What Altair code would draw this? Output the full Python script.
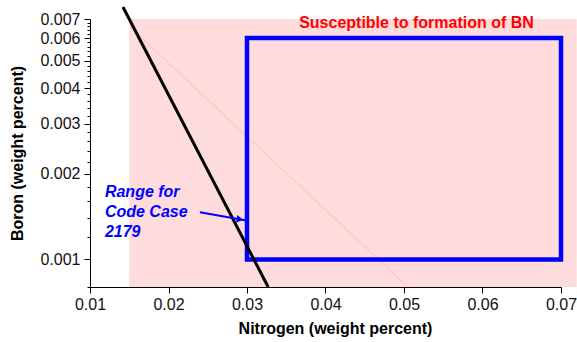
import altair as alt
import pandas as pd

# Axis ranges and tick labels
nitrogen_domain = [0.01, 0.07]
boron_domain = [0.0008, 0.007]
nitrogen_major = [0.01, 0.02, 0.03, 0.04, 0.05, 0.06, 0.07]
boron_major = [0.001, 0.002, 0.003, 0.004, 0.005, 0.006, 0.007]
nitrogen_minor_step = 0.0025
boron_minor_step = 0.0002

# Region susceptible to BN formation
bn_nitrogen = [0.015, 0.072]
bn_boron = [0.0008, 0.007]

# Code Case 2179 window
case_nitrogen = [0.03, 0.07]
case_boron = [0.001, 0.006]

# Solubility limit line
limit_nitrogen = [0.0142, 0.0327]
limit_boron = [0.00771, 0.0008]

# Faint guide line inside the shaded region
guide_nitrogen = [0.0151, 0.0505]
guide_boron = [0.00656, 0.0008]

# Pointer from the label to the window
arrow_nitrogen = [0.0240, 0.02975]
arrow_boron = [0.001464, 0.001372]

FONT = "Liberation Sans"

n_minor = [round(nitrogen_domain[0] + i * nitrogen_minor_step, 5)
           for i in range(int(round((nitrogen_domain[1] - nitrogen_domain[0]) / nitrogen_minor_step)) + 1)]
b_minor = [round(boron_domain[0] + i * boron_minor_step, 5)
           for i in range(int(round((boron_domain[1] - boron_domain[0]) / boron_minor_step)) + 1)]
n_values = sorted(set(n_minor) | set(nitrogen_major))
b_values = sorted(set(b_minor) | set(boron_major))

x_scale = alt.Scale(domain=nitrogen_domain, nice=False, zero=False)
y_scale = alt.Scale(type="log", domain=boron_domain, nice=False)

x_major_test = "abs(datum.value*100 - round(datum.value*100)) < 1e-6"
y_major_test = "abs(datum.value*1000 - round(datum.value*1000)) < 1e-6"

x_axis = alt.Axis(
    values=n_values,
    labelExpr=f"({x_major_test}) ? format(datum.value, '.2f') : ''",
    tickSize={"condition": {"test": x_major_test, "value": 6}, "value": 3},
    labelOverlap=False, labelFlush=False,
    grid=False, domainColor="#000", tickColor="#000",
    labelFont=FONT, labelFontSize=16, labelColor="#111", labelPadding=3,
    title="Nitrogen (weight percent)", titleFont=FONT, titleFontSize=16,
    titleFontWeight="bold", titleColor="#000", titlePadding=8, titleX=245,
)
y_axis = alt.Axis(
    values=b_values,
    labelExpr=f"({y_major_test}) ? format(datum.value, '.3f') : ''",
    tickSize={"condition": {"test": y_major_test, "value": 6}, "value": 3},
    labelOverlap=False, labelFlush=False,
    grid=False, domainColor="#000", tickColor="#000",
    labelFont=FONT, labelFontSize=16, labelColor="#111", labelPadding=4,
    title="Boron (weight percent)", titleFont=FONT, titleFontSize=16,
    titleFontWeight="bold", titleColor="#000", titlePadding=14,
)


def xq(field):
    return alt.X(f"{field}:Q", scale=x_scale)


def yq(field):
    return alt.Y(f"{field}:Q", scale=y_scale)


region_df = pd.DataFrame({"n0": [bn_nitrogen[0]], "n1": [bn_nitrogen[1]],
                          "b0": [bn_boron[0]], "b1": [bn_boron[1]]})
region = alt.Chart(region_df).mark_rect(fill="#FFDCDC", clip=False).encode(
    x=alt.X("n0:Q", scale=x_scale, axis=x_axis),
    x2="n1",
    y=alt.Y("b0:Q", scale=y_scale, axis=y_axis),
    y2="b1",
)

guide_df = pd.DataFrame({"n": guide_nitrogen, "b": guide_boron})
guide = alt.Chart(guide_df).mark_line(color="#FF5555", strokeWidth=0.8, opacity=0.3).encode(
    x=xq("n"), y=yq("b"),
)

case_df = pd.DataFrame({"n0": [case_nitrogen[0]], "n1": [case_nitrogen[1]],
                        "b0": [case_boron[0]], "b1": [case_boron[1]]})
case = alt.Chart(case_df).mark_rect(fillOpacity=0, stroke="#0000FF", strokeWidth=4.5).encode(
    x=xq("n0"), x2="n1", y=yq("b0"), y2="b1",
)

limit_df = pd.DataFrame({"n": limit_nitrogen, "b": limit_boron})
limit = alt.Chart(limit_df).mark_line(color="#000", strokeWidth=3, clip=False).encode(
    x=xq("n"), y=yq("b"),
)

arrow_df = pd.DataFrame({"n": arrow_nitrogen, "b": arrow_boron})
arrow_line = alt.Chart(arrow_df).mark_line(color="#0000FF", strokeWidth=2).encode(
    x=xq("n"), y=yq("b"),
)
head_df = pd.DataFrame({"n": [0.02911], "b": [0.001383]})
arrow_head = alt.Chart(head_df).mark_point(
    shape="triangle-right", filled=True, color="#0000FF", size=60, angle=10, opacity=1
).encode(x=xq("n"), y=yq("b"))

title_df = pd.DataFrame({"n": [0.05159], "b": [0.00652], "t": ["Susceptible to formation of BN"]})
bn_label = alt.Chart(title_df).mark_text(
    font=FONT, fontSize=16, fontWeight="bold", color="#FF0000", align="center", baseline="alphabetic"
).encode(x=xq("n"), y=yq("b"), text="t:N")

case_label_df = pd.DataFrame({"n": [0.0119], "b": [0.001653], "t": ["Range for\nCode Case\n2179"]})
case_label = alt.Chart(case_label_df).mark_text(
    font=FONT, fontSize=16, fontWeight="bold", fontStyle="italic", color="#0000FF",
    align="left", baseline="alphabetic", lineBreak="\n", lineHeight=20,
).encode(x=xq("n"), y=yq("b"), text="t:N")

chart = alt.layer(
    region, guide, case, limit, arrow_line, arrow_head, bn_label, case_label
).properties(
    width=471, height=268,
    background="white",
    autosize=alt.AutoSizeParams(type="none"),
    padding={"left": 90, "top": 19, "right": 16, "bottom": 55},
).configure_view(stroke=None)

chart.save("out.html", embed_options={"renderer": "svg", "actions": False})
